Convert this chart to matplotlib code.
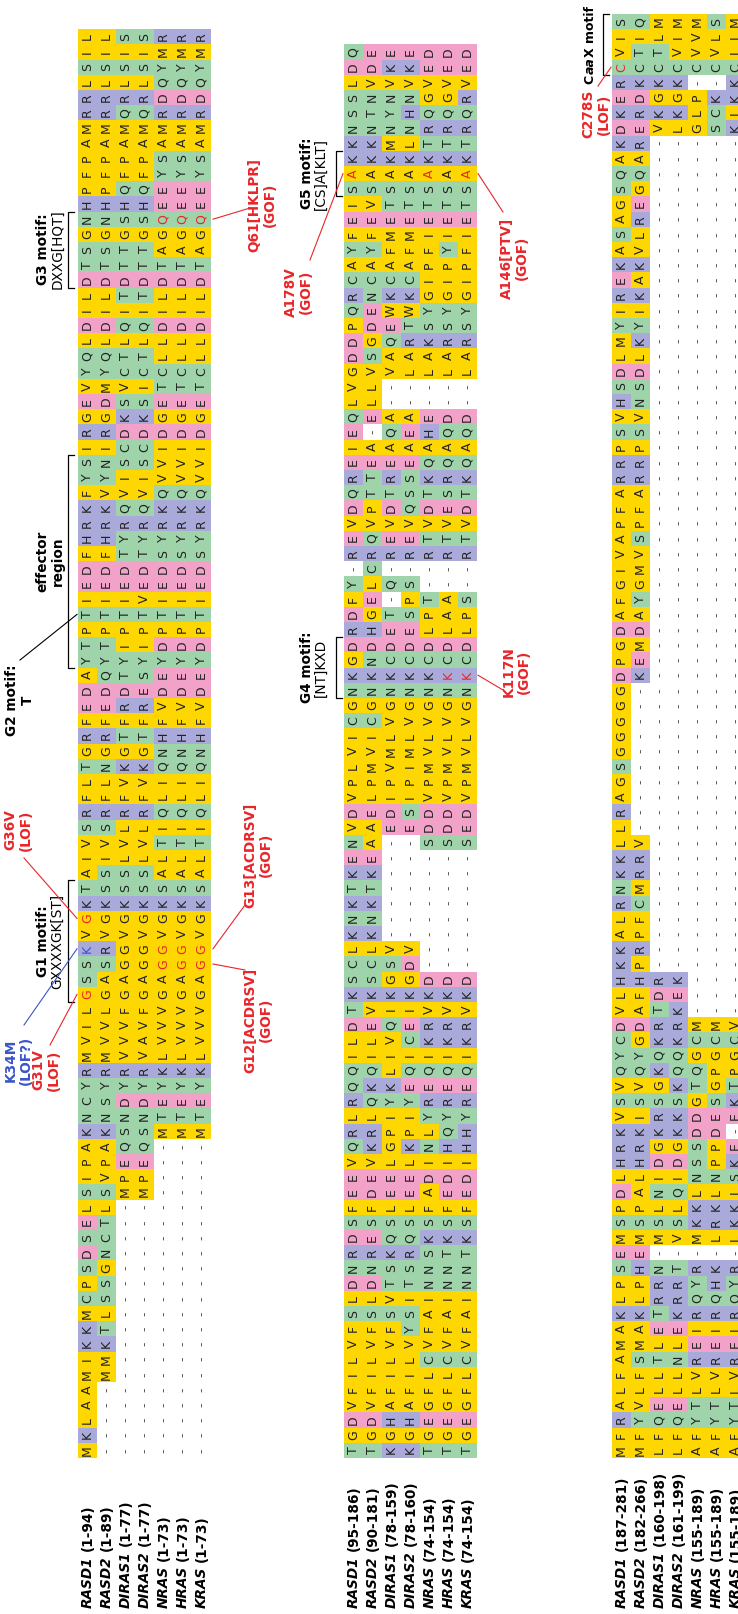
#------------Imports----------------------------------#
import matplotlib
matplotlib.use('Agg')
import matplotlib.pyplot as plt
from matplotlib.patches import Rectangle
#-----------------------------------------------------#

#------------Data: names, ranges and aligned sequences-----------------#
names = ['RASD1', 'RASD2', 'DIRAS1', 'DIRAS2', 'NRAS', 'HRAS', 'KRAS']

ranges1 = ['(1-94)', '(1-89)', '(1-77)', '(1-77)', '(1-73)', '(1-73)', '(1-73)']
ranges2 = ['(95-186)', '(90-181)', '(78-159)', '(78-160)', '(74-154)', '(74-154)', '(74-154)']
ranges3 = ['(187-281)', '(182-266)', '(160-198)', '(161-199)', '(155-189)', '(155-189)', '(155-189)']

block1 = [
    'MKLAAMIKKMCPSDSELSIPAKNCYRMVILGSSKVGKTAIVSRFLTGRFEDAYTPTIEDFHRKFYSIRGEVYQLDILDTSGNHPFPAMRRLSIL',
    '-----MMKTLSSGNCTLSVPAKNSYRMVVLGASRVGKSSIVSRFLNGRFEDQYTPTIEDFHRKVYNIRGDMYQLDILDTSGNHPFPAMRRLSIL',
    '-----------------MPEQSNDYRVVVFGAGGVGKSSLVLRFVKGTFRDTYIPTIEDTYRQVISCDKSVCTLQITDTTGSHQFPAMQRLSIS',
    '-----------------MPEQSNDYRVAVFGAGGVGKSSLVLRFVKGTFRESYIPTVEDTYRQVISCDKSICTLQITDTTGSHQFPAMQRLSIS',
    '---------------------MTEYKLVVVGAGGVGKSALTIQLIQNHFVDEYDPTIEDSYRKQVVIDGETCLLDILDTAGQEEYSAMRDQYMR',
    '---------------------MTEYKLVVVGAGGVGKSALTIQLIQNHFVDEYDPTIEDSYRKQVVIDGETCLLDILDTAGQEEYSAMRDQYMR',
    '---------------------MTEYKLVVVGAGGVGKSALTIQLIQNHFVDEYDPTIEDSYRKQVVIDGETCLLDILDTAGQEEYSAMRDQYMR',
]

block2 = [
    'TGDVFILVFSLDNRDSFEEVQRLRQQILDTKSCLKNKTKENVDVPLVICGNKGDRDFY-REVDQREIEQLVGDDPQRCAYFEISAKKNSSLDQ',
    'TGDVFILVFSLDNRESFDEVKRLQKQILEVKSCLKNKTKEAAELPMVICGNKNDHGELCRQVPTTEA-ELLVSGDENCAYFEVSAKKNTNVDE',
    'KGHAFILVFSVTSKQSLEELGPIYKLIVQIKGSV-------EDIPVMLVGNKCDET-Q-REVDTREAQA--VAQEWKCAFMETSAKMNYNVKE',
    'KGHAFILVYSITSRQSLEELKPIYEQICEIKGDV-------ESIPIMLVGNKCDESPS-REVQSSEAEA--LARTWKCAFMETSAKLNHNVKE',
    'TGEGFLCVFAINNSKSFADINLYREQIKRVKD--------SDDVPMVLVGNKCDLPT--RTVDTKQAHE--LAKSYGIPFIETSAKTRQGVED',
    'TGEGFLCVFAINNTKSFEDIHQYREQIKRVKD--------SDDVPMVLVGNKCDLAA--RTVESRQAQD--LARSYGIPYIETSAKTRQGVED',
    'TGEGFLCVFAINNTKSFEDIHHYREQIKRVKD--------SEDVPMVLVGNKCDLPS--RTVDTKQAQD--LARSYGIPFIETSAKTRQRVED',
]

block3 = [
    'MFRALFAMAKLPSEMSPDLHRKVSVQYCDVLHKKALRNKKLLRAGSGGGGGDPGDAFGIVAPFARRPSVHSDLMYIREKASAGSQAKDKERCVIS',
    'MFYVLFSMAKLPHEMSPALHRKISVQYGDAFHPRPFCMRRV----------KEMDAYGMVSPFARRPSVNSDLKYIKAKVLREGQARERDKCTIQ',
    'LFQELLTLETRRN-MSLNIDGKRSGKQKRTDR-------------------------------------------------------VKGKCTLM',
    'LFQELLNLEKRRT-VSLQIDGKKSKQQKRKEK-------------------------------------------------------LKGKCVIM',
    'AFYTLVREIRQYR-MKKLNSSDDGTQGCM----------------------------------------------------------GLP-CVVM',
    'AFYTLVREIRQHK-LRKLNPPDESGPGCM----------------------------------------------------------SCK-CVLS',
    'AFYTLVREIRQYR-LKKISKE-EKTPGCV----------------------------------------------------------KIKKCIIM',
]

blocks = [block1, block2, block3]
range_sets = [ranges1, ranges2, ranges3]

# highlighted residues: block, sequence row, alignment column (1-based), text colour
marked = [
    (0, 0, 31, '#e8262a'), (0, 0, 34, '#3a56c8'), (0, 0, 36, '#e8262a'),
    (0, 4, 33, '#e8262a'), (0, 4, 34, '#e8262a'),
    (0, 5, 33, '#e8262a'), (0, 5, 34, '#e8262a'),
    (0, 6, 33, '#e8262a'), (0, 6, 34, '#e8262a'),
    (0, 4, 82, '#e8262a'), (0, 5, 82, '#e8262a'), (0, 6, 82, '#e8262a'),
    (1, 5, 52, '#e8262a'), (1, 6, 52, '#e8262a'),
    (1, 0, 85, '#e8262a'), (1, 4, 85, '#e8262a'), (1, 6, 85, '#e8262a'),
    (2, 0, 92, '#e8262a'),
]
#----------------------------------------------------------------------#

#------------Colours by residue class----------------------------------#
YELLOW, GREEN, PINK, BLUE = '#ffd700', '#9fd3a9', '#f2a2c8', '#a9a9da'
cls = {}
for a in 'AVLIMFPGW':
    cls[a] = YELLOW
for a in 'STNQCY':
    cls[a] = GREEN
for a in 'DE':
    cls[a] = PINK
for a in 'KRH':
    cls[a] = BLUE
#----------------------------------------------------------------------#

W = 19.0        # width of one sequence column (px)
H = 15.2        # height of one residue (px)
Y0 = 1458.0     # bottom of the alignment
X0 = [78, 344, 612]
RED = '#e8262a'
FS = 9.0

fig = plt.figure(figsize=(7.38, 16.14), dpi=100)
ax = fig.add_axes([0, 0, 1, 1])
ax.set_xlim(0, 738)
ax.set_ylim(1614, 0)
ax.axis('off')

mark_col = {(b, r, c): col for b, r, c, col in marked}

#------------Draw the three alignment blocks---------------------------#
for b, block in enumerate(blocks):
    for r, seq in enumerate(block):
        x = X0[b] + r * W
        for c, aa in enumerate(seq):
            ytop = Y0 - (c + 1) * H
            if aa != '-':
                ax.add_patch(Rectangle((x, ytop), W, H, facecolor=cls[aa],
                                       edgecolor='none', zorder=1))
                col = mark_col.get((b, r, c + 1), '#222222')
                ax.text(x + W / 2, ytop + H / 2, aa, rotation=90, ha='center',
                        va='center', fontsize=FS, color=col, zorder=3)
            else:
                ax.text(x + W / 2, ytop + H / 2, '-', rotation=90, ha='center',
                        va='center', fontsize=FS, color='#555555', zorder=3)
#----------------------------------------------------------------------#

fig.canvas.draw()
rend = fig.canvas.get_renderer()


def pieces_up(x, ybot, pieces, fs=9.8, color='black', gap=3):
    """write text pieces one after another, reading bottom to top"""
    y = ybot
    made = []
    for s, style, wt in pieces:
        t = ax.text(x, y, s, rotation=90, ha='center', va='bottom', fontsize=fs,
                    fontstyle=style, fontweight=wt, color=color, zorder=4)
        bb = t.get_window_extent(rend)
        made.append(t)
        y = y - bb.height - gap
    return made, ybot - y


def pieces_mid(x, ymid, pieces, fs=9.8, gap=0.5):
    """same as pieces_up but centred on ymid"""
    made, length = pieces_up(x, 0, pieces, fs=fs, gap=gap)
    shift = ymid + length / 2
    for t in made:
        px, py = t.get_position()
        t.set_position((px, py + shift))


#------------Sequence labels under every block-------------------------#
for b in range(3):
    for r, nm in enumerate(names):
        x = X0[b] + (r + 0.5) * W
        pieces_up(x, 1608, [(nm, 'italic', 'bold'), (range_sets[b][r], 'normal', 'bold')], gap=5)
#----------------------------------------------------------------------#


def note(x, y, s, color='black', wt='bold', fs=9.8):
    ax.text(x, y, s, rotation=90, ha='center', va='center', fontsize=fs,
            fontweight=wt, color=color, multialignment='center', zorder=4, linespacing=1.1)


def motif(x, y, head, body, fs=9.8):
    ax.text(x - 7, y, head, rotation=90, ha='center', va='center', fontsize=fs,
            fontweight='bold', zorder=4)
    ax.text(x + 7, y, body, rotation=90, ha='center', va='center', fontsize=fs,
            fontweight='normal', zorder=4)


def bracket(xv, y1, y2, tick=6):
    ax.plot([xv + tick, xv, xv, xv + tick], [y1, y1, y2, y2], color='black', lw=0.9, zorder=4)


def link(x1, y1, x2, y2, color=RED):
    ax.plot([x1, x2], [y1, y2], color=color, lw=0.8, zorder=4)


def colspan(c1, c2):
    return Y0 - c2 * H, Y0 - (c1 - 1) * H


def colmid(c):
    return Y0 - (c - 0.5) * H


#------------Annotations: block 1--------------------------------------#
y1, y2 = colspan(78, 82)
bracket(68, y1, y2)
motif(50, (y1 + y2) / 2, 'G3 motif:', 'DXXG[HQT]')

y1, y2 = colspan(53, 66)
bracket(68, y1, y2)
note(50, (y1 + y2) / 2, 'effector\nregion')
note(20, 700, 'G2 motif:\nT', wt='bold')
link(20, 660, 77, colmid(56), color='black')

y1, y2 = colspan(31, 38)
bracket(68, y1, y2)
motif(50, (y1 + y2) / 2, 'G1 motif:', 'GXXXXGK[ST]')
note(18, 830, 'G36V\n(LOF)', color=RED)
link(24, 858, 77, colmid(36))
note(18, 1060, 'K34M\n(LOF?)', color='#3a56c8')
link(24, 1025, 77, colmid(34), color='#3a56c8')
note(46, 1070, 'G31V\n(LOF)', color=RED)
link(50, 1045, 77, colmid(31))

note(262, 205, 'Q61[HKLPR]\n(GOF)', color=RED)
link(213, colmid(82), 250, 208)
note(258, 855, 'G13[ACDRSV]\n(GOF)', color=RED)
link(213, colmid(34), 245, 905)
note(258, 1020, 'G12[ACDRSV]\n(GOF)', color=RED)
link(213, colmid(33), 245, 970)
#----------------------------------------------------------------------#

#------------Annotations: block 2--------------------------------------#
y1, y2 = colspan(84, 86)
bracket(336, y1, y2)
motif(314, (y1 + y2) / 2, 'G5 motif:', '[CS]A[KLT]')
note(298, 292, 'A178V\n(GOF)', color=RED)
link(310, 260, 343, colmid(85))

y1, y2 = colspan(51, 54)
bracket(336, y1, y2)
motif(314, (y1 + y2) / 2, 'G4 motif:', '[NT]KXD')

note(516, 672, 'K117N\n(GOF)', color=RED)
link(478, colmid(52), 503, 690)
note(514, 258, 'A146[PTV]\n(GOF)', color=RED)
link(478, colmid(85), 503, 212)
#----------------------------------------------------------------------#

#------------Annotations: block 3--------------------------------------#
y1, y2 = colspan(92, 95)
bracket(603, y1, y2)
pieces_mid(590, (y1 + y2) / 2, [('C', 'normal', 'bold'), ('aa', 'italic', 'bold'),
                                ('X motif', 'normal', 'bold')], fs=9.0)
note(596, 114, 'C278S\n(LOF)', color=RED)
link(611, colmid(92), 598, 86)
#----------------------------------------------------------------------#

fig.savefig('out.png', dpi=100)
